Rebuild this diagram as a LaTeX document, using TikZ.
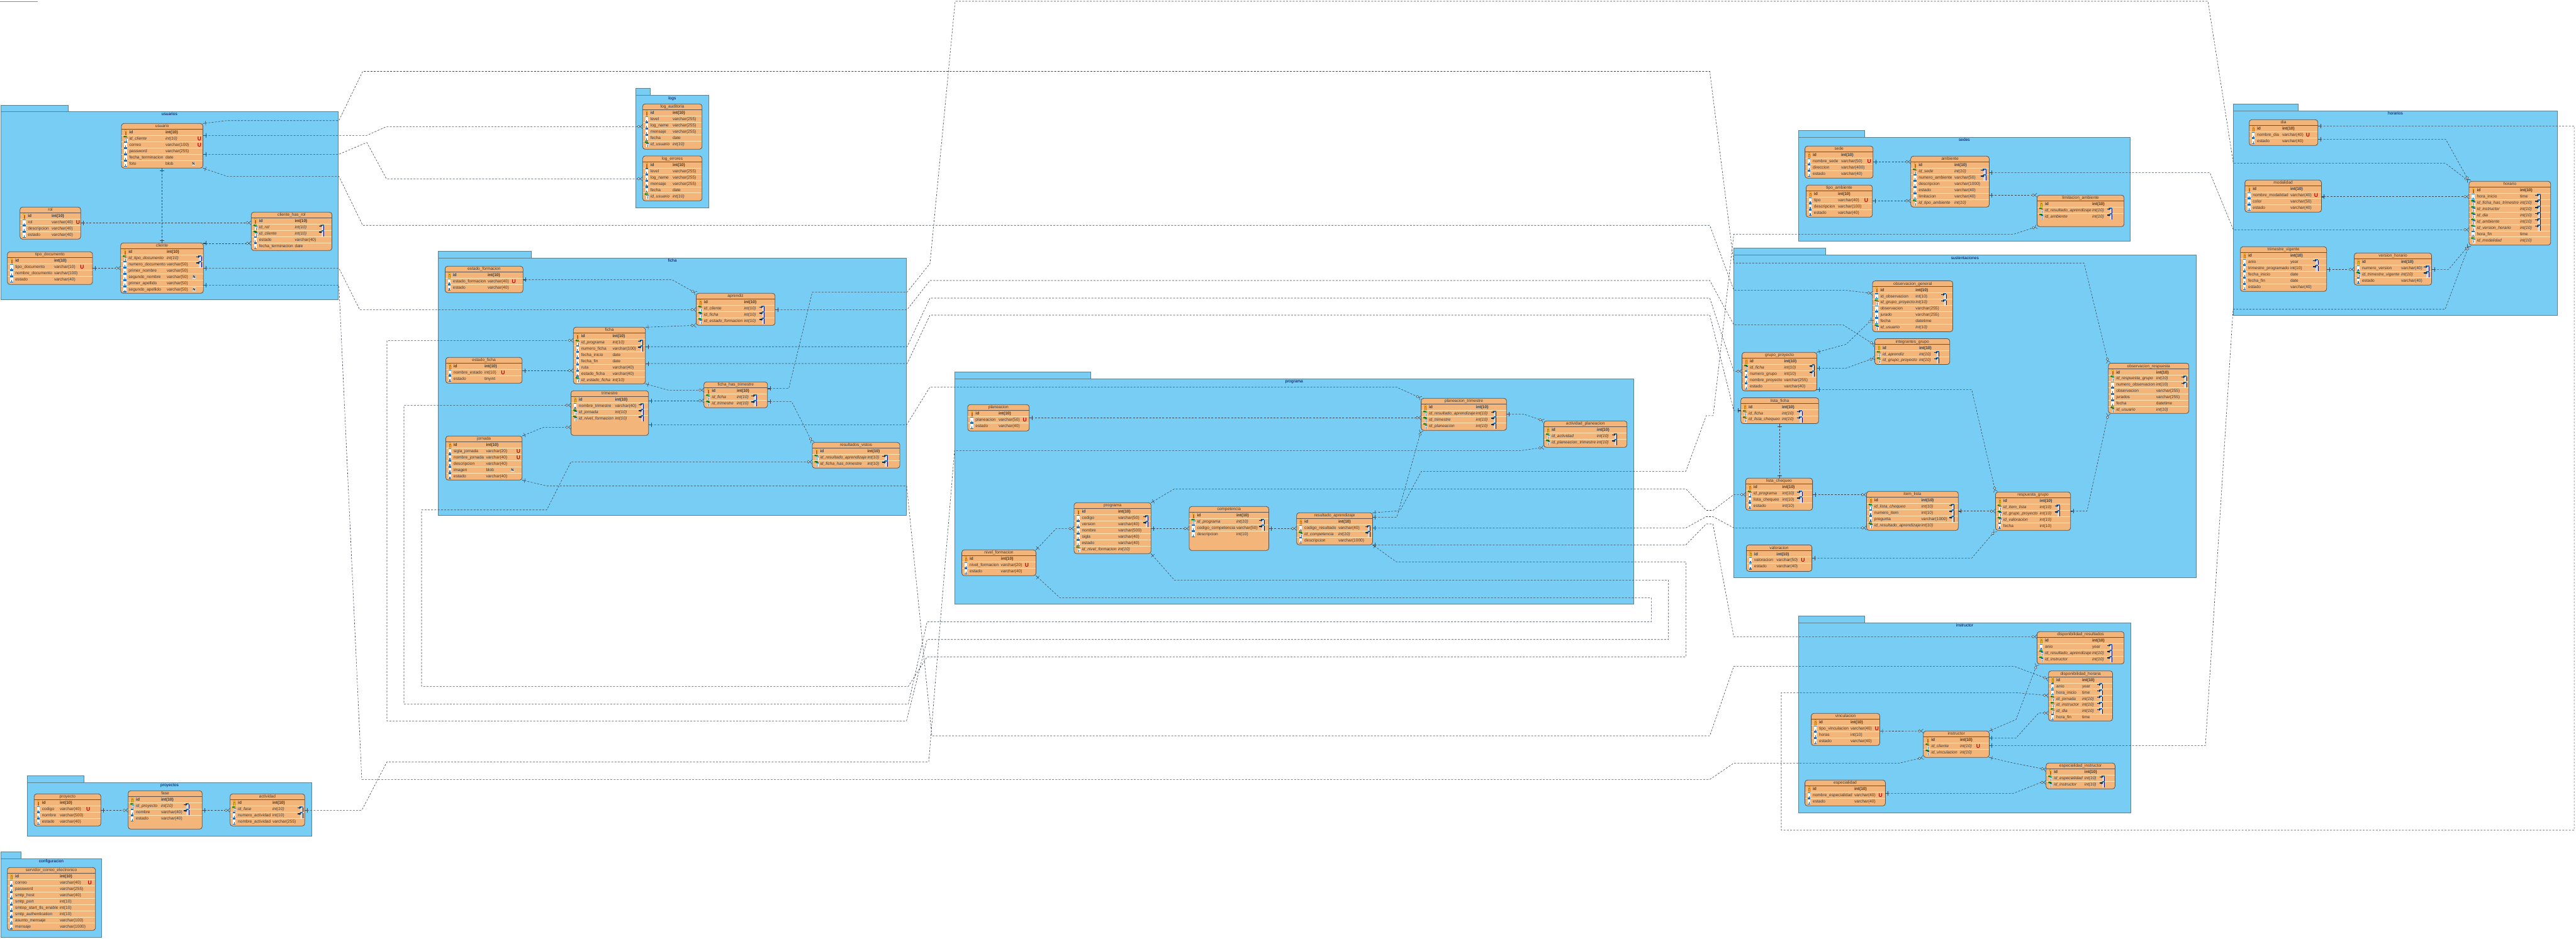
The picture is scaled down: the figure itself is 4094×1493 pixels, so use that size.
\documentclass[tikz,border=0pt]{standalone}
\usepackage{fontspec}
\setmainfont{Liberation Sans}
\usetikzlibrary{arrows.meta}
\definecolor{pkgfill}{HTML}{78CDF5}
\definecolor{pkgline}{HTML}{5B7F93}
\definecolor{tblfill}{HTML}{F4B57A}
\definecolor{tblline}{HTML}{5C5048}
\definecolor{rowline}{HTML}{FFE6B4}
\definecolor{iconblue}{HTML}{1B6FC2}
\definecolor{relline}{HTML}{3C4650}
\newcommand\tfont{\fontsize{6.6}{7.5}\selectfont}
\tikzset{
  x=1pt,y=-1pt,
  pkgbox/.style={draw=pkgline,fill=pkgfill,line width=.8pt},
  tblbox/.style={draw=tblline,fill=tblfill,line width=.8pt,rounded corners=4pt,inner sep=0pt,outer sep=0pt},
  txt/.style={inner sep=0pt,outer sep=0pt,font=\tfont,text=black!78},
  ttl/.style={txt,text=black!70!blue},
  onetip/.tip={Bar[width=7pt,sep=0pt,line width=.5pt] Rectangle[length=4pt,width=.5pt,sep=0pt]},
  manytip/.tip={Circle[open,length=4.5pt,width=4.5pt,fill=white,sep=0pt,line width=.6pt] Straight Barb[reversed,length=3.5pt,width=6.5pt,sep=0pt,line width=.5pt]},
  rel/.style={draw=relline,line width=.6pt,dash pattern=on 3pt off 2.2pt},
}
\newcommand\iconkey[2]{%
  \fill[yellow!85!orange,draw=orange!80!black,line width=.2pt] (#1-.7,#2-2) rectangle (#1+.7,#2+4.5);
  \fill[yellow!85!orange,draw=orange!80!black,line width=.2pt] (#1,#2-3) circle (1.6);}
\newcommand\iconcol[2]{%
  \fill[white] (#1-2.2,#2-5) rectangle (#1+2.2,#2+5);
  \fill[iconblue] (#1-2.2,#2-5) rectangle (#1+2.2,#2-3.2);
  \fill[iconblue] (#1-2.2,#2+3.4) rectangle (#1+2.2,#2+5);
  \fill[iconblue] (#1-.6,#2+1) rectangle (#1+.6,#2+3.4);}
\newcommand\iconfk[2]{%
  \fill[white] (#1-1,#2-2) rectangle (#1+2.6,#2+5);
  \fill[iconblue] (#1-1,#2-2) rectangle (#1+2.6,#2-.6);
  \fill[iconblue] (#1+.3,#2+.5) rectangle (#1+1.3,#2+4.5);
  \fill[green!50!black] (#1-4,#2-3.2) -- (#1-1.8,#2-5) -- (#1-1.8,#2-4.2) -- (#1+1.5,#2-4.2) -- (#1+1.5,#2-2.6) -- (#1-1.8,#2-2.6) -- (#1-1.8,#2-1.6) -- cycle;}
\newcommand\markR[2]{%
  \fill[white!85!black] (#1-2,#2-5) rectangle (#1+2.2,#2+5);
  \fill[iconblue] (#1-2,#2-5) rectangle (#1+2.2,#2-3);
  \fill[black!60!blue] (#1+1.5,#2-3) rectangle (#1+2.2,#2+5);
  \fill[black!65!iconblue] (#1-6,#2-3) rectangle (#1-2.5,#2-1.8);
  \fill[black!65!iconblue] (#1-3,#2-4.5) -- (#1-.6,#2-2.4) -- (#1-3,#2-.3) -- cycle;}
% package: id, x1, x2, tab top, body top, bottom, tab right
\newcommand\pkg[7]{%
  \node[pkgbox,inner sep=0pt,outer sep=0pt,minimum width={(#7-#2)*1pt},minimum height={(#5-#4)*1pt},anchor=north west] (#1-tab) at (#2,#4) {};
  \node[pkgbox,inner sep=0pt,outer sep=0pt,minimum width={(#3-#2)*1pt},minimum height={(#6-#5)*1pt},anchor=north west] (#1-pkg) at (#2,#5) {};
  \node[ttl,anchor=base] (#1-title) at ({(#2+#3)/2},#5+6.5) {#1};}
% table: id, x1, x2, y1, y2, type x, mark x, rows
\newcommand\tbl[8]{%
  \node[tblbox,minimum width={(#3-#2)*1pt},minimum height={(#5-#4)*1pt}] (#1) at ({(#2+#3)/2},{(#4+#5)/2}) {};
  \node[txt,anchor=base] (#1-t) at ({(#2+#3)/2},#4+6.6) {#1};
  \draw[tblline,line width=.8pt] (#2,#4+9.3) -- (#3,#4+9.3);
  \foreach \Ka/\Na/\Ty/\Ma [count=\ri from 0] in {#8}{%
    \pgfmathsetmacro\ry{#4+14.3+9.9*\ri}%
    \ifnum\ri>0 \draw[rowline,line width=.8pt] (#2+.4,\ry-4.95) -- (#3-.4,\ry-4.95);\fi
    \if p\Ka
      \iconkey{#2+6.5}{\ry}
      \node[txt,anchor=base west,font=\tfont\bfseries] (#1-n\ri) at (#2+12.5,\ry+2.3) {\Na};
      \node[txt,anchor=base west,font=\tfont\bfseries] (#1-y\ri) at (#6,\ry+2.3) {\Ty};
    \else\if f\Ka
      \iconfk{#2+7}{\ry}
      \node[txt,anchor=base west,font=\tfont\itshape] (#1-n\ri) at (#2+12.5,\ry+2.3) {\Na};
      \node[txt,anchor=base west,font=\tfont\itshape] (#1-y\ri) at (#6,\ry+2.3) {\Ty};
    \else
      \iconcol{#2+6.5}{\ry}
      \node[txt,anchor=base west] (#1-n\ri) at (#2+12.5,\ry+2.3) {\Na};
      \node[txt,anchor=base west] (#1-y\ri) at (#6,\ry+2.3) {\Ty};
    \fi\fi
    \if U\Ma
      \node[inner sep=0pt,anchor=base,text=red!75!black,font=\fontsize{8.5}{9}\selectfont\bfseries] (#1-u\ri) at (#7,\ry+3) {U};
    \else\if R\Ma
      \markR{#7}{\ry}
    \else\if N\Ma
      \node[inner sep=.5pt,fill=white,anchor=center,text=black,font=\fontsize{6}{6}\selectfont\bfseries] (#1-m\ri) at (#7-9.5,\ry) {N};
    \fi\fi\fi
  }}
\catcode`\_=12
\begin{document}
\begin{tikzpicture}
\useasboundingbox (0,0) rectangle (4094,1493);
\draw[black!45,line width=.5pt] (0,2) -- (60,2);
% ---------- packages
\pkg{usuarios}{1.4}{537.5}{167.3}{177.3}{476.3}{108.6}
\pkg{logs}{1010.3}{1126.3}{140.3}{151.7}{330.3}{1033.7}
\pkg{ficha}{696.4}{1440.7}{399.3}{410.3}{819.3}{844.7}
\pkg{programa}{1517}{2596.4}{591.3}{602.3}{960}{1733.6}
\pkg{sedes}{2858.2}{3385.7}{207.3}{218.3}{383.3}{2963.6}
\pkg{sustentaciones}{2755.5}{3490}{394.5}{405.5}{918.8}{2901.4}
\pkg{instructor}{2858.2}{3386.8}{979.3}{990.3}{1292}{2963.6}
\pkg{horarios}{3549.4}{4064.5}{165.3}{176}{501.3}{3652.7}
\pkg{proyectos}{43.3}{495.7}{1233.3}{1244.3}{1329.7}{133.7}
\pkg{configuracion}{1.3}{161.7}{1354.3}{1365.3}{1490.3}{33.7}
% ---------- tables
\tbl{usuario}{193}{322.5}{196.3}{267.3}{263}{317}{p/id/int(10)/-,f/id_cliente/int(10)/U,c/correo/varchar(100)/U,c/password/varchar(255)/-,c/fecha_terminacion/date/-,c/foto/blob/N}
\tbl{rol}{31.8}{128.2}{329.3}{380.3}{82.1}{124}{p/id/int(10)/-,c/rol/varchar(40)/U,c/descripcion/varchar(40)/-,c/estado/varchar(40)/-}
\tbl{tipo_documento}{11.8}{147}{400.3}{452.3}{86}{130.4}{p/id/int(10)/-,c/tipo_documento/varchar(10)/U,c/nombre_documento/varchar(100)/-,c/estado/varchar(40)/-}
\tbl{cliente}{191.8}{323.2}{386.3}{466.3}{265}{318}{p/id/int(10)/-,f/id_tipo_documento/int(10)/R,c/numero_documento/varchar(50)/R,c/primer_nombre/varchar(50)/-,c/segundo_nombre/varchar(50)/N,c/primer_apellido/varchar(50)/-,c/segundo_apellido/varchar(50)/N}
\tbl{cliente_has_rol}{399.3}{527.5}{337.3}{398.3}{468.6}{512.5}{p/id/int(10)/-,f/id_rol/int(10)/R,f/id_cliente/int(10)/R,c/estado/varchar(40)/-,c/fecha_terminacion/date/-}
\tbl{log_auditoria}{1021.3}{1115.7}{165.3}{237.3}{1069}{1110}{p/id/int(10)/-,c/level/varchar(255)/-,c/log_name/varchar(255)/-,c/mensaje/varchar(255)/-,c/fecha/date/-,f/id_usuario/int(10)/-}
\tbl{log_errores}{1021.3}{1115.7}{248}{319.3}{1069}{1110}{p/id/int(10)/-,c/level/varchar(255)/-,c/log_name/varchar(255)/-,c/mensaje/varchar(255)/-,c/fecha/date/-,f/id_usuario/int(10)/-}
\tbl{estado_formacion}{707.4}{831.2}{423.3}{465.3}{775}{816.8}{p/id/int(10)/-,c/estado_formacion/varchar(40)/U,c/estado/varchar(40)/-}
\tbl{aprendiz}{1106.4}{1231.7}{466.3}{517.3}{1182.5}{1212.8}{p/id/int(10)/-,f/id_cliente/int(10)/R,f/id_ficha/int(10)/R,f/id_estado_formacion/int(10)/R}
\tbl{ficha}{911.3}{1025.8}{520.3}{610.3}{973.5}{1019.8}{p/id/int(10)/-,f/id_programa/int(10)/R,c/numero_ficha/varchar(100)/R,c/fecha_inicio/date/-,c/fecha_fin/date/-,c/ruta/varchar(40)/-,c/estado_ficha/varchar(40)/-,f/id_estado_ficha/int(10)/-}
\tbl{estado_ficha}{708.4}{829.8}{568.3}{609.3}{770}{799.4}{p/id/int(10)/-,c/nombre_estado/int(10)/U,c/estado/tinyint/-}
\tbl{trimestre}{907.4}{1030.7}{621.3}{692.3}{977.5}{1020.8}{p/id/int(10)/-,c/nombre_trimestre/varchar(40)/R,f/id_jornada/int(10)/R,f/id_nivel_formacion/int(10)/R}
\tbl{ficha_has_trimestre}{1118.8}{1219.8}{607.3}{648.3}{1171}{1200.4}{p/id/int(10)/-,f/id_ficha/int(10)/R,f/id_trimestre/int(10)/R}
\tbl{jornada}{708.4}{829.8}{693.3}{763.3}{772.5}{824}{p/id/int(10)/-,c/sigla_jornada/varchar(20)/U,c/nombre_jornada/varchar(40)/U,c/descripcion/varchar(40)/-,c/imagen/blob/N,c/estado/varchar(40)/-}
\tbl{resultados_vistos}{1291}{1430}{703.3}{744.3}{1378.5}{1408.4}{p/id/int(10)/-,f/id_resultado_aprendizaje/int(10)/R,f/id_ficha_has_trimestre/int(10)/R}
\tbl{planeacion}{1537.9}{1635.7}{643.3}{685.3}{1587}{1628.6}{p/id/int(10)/-,c/planeacion/varchar(50)/U,c/estado/varchar(40)/-}
\tbl{planeacion_trimestre}{2258.6}{2394.3}{633.3}{684.3}{2345.7}{2375.7}{p/id/int(10)/-,f/id_resultado_aprendizaje/int(10)/R,f/id_trimestre/int(10)/R,f/id_planeacion/int(10)/R}
\tbl{actividad_planeacion}{2453.6}{2585.7}{669.3}{711.3}{2537.9}{2567.9}{p/id/int(10)/-,f/id_actividad/int(10)/R,f/id_planeacion_trimestre/int(10)/R}
\tbl{programa}{1707}{1829.3}{799.3}{880.3}{1777}{1822.9}{p/id/int(10)/-,c/codigo/varchar(50)/R,c/version/varchar(40)/R,c/nombre/varchar(500)/-,c/sigla/varchar(40)/-,c/estado/varchar(40)/-,f/id_nivel_formacion/int(10)/-}
\tbl{competencia}{1890}{2016.4}{805.3}{875.3}{1965}{2007}{p/id/int(10)/-,f/id_programa/int(10)/R,c/codigo_competencia/varchar(50)/R,c/descripcion/int(10)/-}
\tbl{resultado_aprendizaje}{2060.7}{2181.4}{815.3}{866.3}{2127}{2175.7}{p/id/int(10)/-,c/codigo_resultado/varchar(40)/R,f/id_competencia/int(10)/R,c/descripcion/varchar(1000)/-}
\tbl{nivel_formacion}{1528.6}{1646.4}{874.3}{915.3}{1590.7}{1632}{p/id/int(10)/-,c/nivel_formacion/varchar(20)/U,c/estado/varchar(40)/-}
\tbl{observacion_general}{2976}{3103.5}{446.5}{527.4}{3044.4}{3091}{p/id/int(10)/-,c/id_observacion/int(10)/R,f/id_grupo_proyecto/int(10)/R,c/observacion/varchar(255)/-,c/jurado/varchar(255)/-,c/fecha/datetime/-,f/id_usuario/int(10)/-}
\tbl{integrantes_grupo}{2979.5}{3098.7}{538.5}{579.5}{3050}{3079.8}{p/id/int(10)/-,f/id_aprendiz/int(10)/R,f/id_grupo_proyecto/int(10)/R}
\tbl{grupo_proyecto}{2768.6}{2887.4}{560.2}{621.5}{2835.5}{2881.5}{p/id/int(10)/-,f/id_ficha/int(10)/R,c/numero_grupo/int(10)/R,c/nombre_proyecto/varchar(255)/-,c/estado/varchar(40)/-}
\tbl{lista_ficha}{2766.7}{2890.3}{632.5}{673.5}{2832}{2862}{p/id/int(10)/-,f/id_ficha/int(10)/R,f/id_lista_chequeo/int(10)/R}
\tbl{lista_chequeo}{2774.4}{2880.6}{760.3}{811.3}{2832.6}{2862}{p/id/int(10)/-,f/id_programa/int(10)/R,c/lista_chequeo/int(10)/R,c/estado/int(10)/-}
\tbl{item_lista}{2966.4}{3112.3}{781.3}{843.3}{3053.6}{3103.5}{p/id/int(10)/-,f/id_lista_chequeo/int(10)/R,c/numero_item/int(10)/R,c/pregunta/varchar(1000)/R,f/id_resultado_aprendizaje/int(10)/-}
\tbl{respuesta_grupo}{3171.4}{3290.7}{782.3}{843.3}{3241.7}{3271.7}{p/id/int(10)/-,f/id_item_lista/int(10)/R,f/id_grupo_proyecto/int(10)/R,f/id_valoracion/int(10)/-,c/fecha/int(10)/-}
\tbl{observacion_respuesta}{3350.8}{3478.7}{577.4}{657.3}{3426.9}{3473}{p/id/int(10)/-,f/id_respuesta_grupo/int(10)/R,c/numero_observacion/int(10)/R,c/observacion/varchar(255)/-,c/jurados/varchar(255)/-,c/fecha/datetime/-,f/id_usuario/int(10)/-}
\tbl{valoracion}{2775.4}{2879.6}{866.4}{908.4}{2823.4}{2865.5}{p/id/int(10)/-,c/valoracion/varchar(50)/U,c/estado/varchar(40)/-}
\tbl{sede}{2868.6}{2976.8}{232.3}{283.3}{2926}{2970.7}{p/id/int(10)/-,c/nombre_sede/varchar(50)/U,c/direccion/varchar(400)/-,c/estado/varchar(40)/-}
\tbl{tipo_ambiente}{2870.4}{2975.7}{294.3}{345.3}{2921}{2966}{p/id/int(10)/-,c/tipo/varchar(40)/U,c/descripcion/varchar(100)/-,c/estado/varchar(40)/-}
\tbl{ambiente}{3036.8}{3161.4}{248.3}{329.3}{3106}{3154.3}{p/id/int(10)/-,f/id_sede/int(10)/R,c/numero_ambiente/varchar(50)/R,c/descripcion/varchar(1000)/-,c/estado/varchar(40)/-,c/limitacion/varchar(40)/-,f/id_tipo_ambiente/int(10)/-}
\tbl{limitacion_ambiente}{3237.5}{3375.7}{310.3}{360.3}{3325}{3354.6}{p/id/int(10)/-,f/id_resultado_aprendizaje/int(10)/R,f/id_ambiente/int(10)/R}
\tbl{dia}{3574.6}{3683.6}{190.3}{231.3}{3627}{3668}{p/id/int(10)/-,c/nombre_dia/varchar(40)/U,c/estado/varchar(40)/-}
\tbl{modalidad}{3567.8}{3689.4}{286.3}{337.3}{3640}{3681}{p/id/int(10)/-,c/nombre_modalidad/varchar(40)/U,c/color/varchar(50)/-,c/estado/varchar(40)/-}
\tbl{trimestre_vigente}{3560.6}{3697.6}{392.3}{463.3}{3640}{3682}{p/id/int(10)/-,c/anio/year/R,c/trimestre_programado/int(10)/R,c/fecha_inicio/date/-,c/fecha_fin/date/-,c/estado/varchar(40)/-}
\tbl{version_horario}{3741.5}{3864.5}{402.3}{453.3}{3816}{3858.4}{p/id/int(10)/-,c/numero_version/varchar(40)/R,f/id_trimestre_vigente/int(10)/R,c/estado/varchar(40)/-}
\tbl{horario}{3924}{4053.7}{288.3}{389.7}{4005}{4035.4}{p/id/int(10)/-,c/hora_inicio/time/R,f/id_ficha_has_trimestre/int(10)/R,f/id_instructor/int(10)/R,f/id_dia/int(10)/R,f/id_ambiente/int(10)/R,f/id_version_horario/int(10)/R,c/hora_fin/time/-,f/id_modalidad/int(10)/-}
\tbl{disponibilidad_resultados}{3237.5}{3375.7}{1004.3}{1055.7}{3325}{3354.6}{p/id/int(10)/-,c/anio/year/R,f/id_resultado_aprendizaje/int(10)/R,f/id_instructor/int(10)/R}
\tbl{disponibilidad_horaria}{3255.7}{3357.5}{1066.7}{1146.3}{3309}{3339}{p/id/int(10)/-,c/anio/year/R,c/hora_inicio/time/R,f/id_jornada/int(10)/R,f/id_instructor/int(10)/R,f/id_dia/int(10)/R,c/hora_fin/time/-}
\tbl{vinculacion}{2878.6}{2987.5}{1134.3}{1185.3}{2941}{2982.9}{p/id/int(10)/-,c/tipo_vinculacion/varchar(40)/U,c/horas/int(10)/-,c/estado/varchar(40)/-}
\tbl{instructor}{3056.8}{3161.4}{1162.3}{1204.3}{3115}{3144}{p/id/int(10)/-,f/id_cliente/int(10)/U,f/id_vinculacion/int(10)/-}
\tbl{especialidad_instructor}{3251.8}{3361.4}{1213.3}{1254.3}{3312.9}{3342.9}{p/id/int(10)/-,f/id_especialidad/int(10)/R,f/id_instructor/int(10)/R}
\tbl{especialidad}{2868.6}{2996.4}{1240.3}{1281.3}{2947}{2988.6}{p/id/int(10)/-,c/nombre_especialidad/varchar(40)/U,c/estado/varchar(40)/-}
\tbl{proyecto}{54.3}{160.3}{1262.3}{1313.3}{95}{140.3}{p/id/int(10)/-,c/codigo/varchar(40)/U,c/nombre/varchar(500)/-,c/estado/varchar(40)/-}
\tbl{fase}{203.7}{321.3}{1257.3}{1318.3}{256}{298}{p/id/int(10)/-,f/id_proyecto/int(10)/R,c/nombre/varchar(40)/R,c/estado/varchar(40)/-}
\tbl{actividad}{365.7}{484.3}{1262.3}{1313.3}{433}{479}{p/id/int(10)/-,f/id_fase/int(10)/R,c/numero_actividad/int(10)/R,c/nombre_actividad/varchar(255)/-}
\tbl{servidor_correo_electronico}{11.7}{151.7}{1379.3}{1479.3}{95}{142.7}{p/id/int(10)/-,c/correo/varchar(40)/U,c/password/varchar(255)/-,c/smtp_host/varchar(40)/-,c/smtp_port/int(10)/-,c/smtop_start_tls_enable/int(10)/-,c/smtp_authentication/int(10)/-,c/asunto_mensaje/varchar(100)/-,c/mensaje/varchar(1000)/-}
% ---------- connectors, usuarios
\draw[rel,onetip-onetip] (usuario.south -| 257.5,0) -- (cliente.north -| 257.5,0);
\draw[rel,onetip-manytip] (rol.east |- 0,354.3) -- (cliente_has_rol.west |- 0,354.3);
\draw[rel,onetip-manytip] (cliente.east |- 0,386.8) -- (cliente_has_rol.west |- 0,386.8);
\draw[rel,onetip-manytip] (tipo_documento.east |- 0,426.3) -- (cliente.west |- 0,426.3);
\draw[rel,onetip-manytip] (usuario.north east) -- (360.7,191.7) -- (538.6,191.7) -- (576.4,113.5) -- (2717.3,113.5) -- (2755.5,418.2) -- (3312,418.2) -- (observacion_respuesta.north west);
\draw[rel,onetip-manytip] (usuario.east |- 0,215.3) -- (583,215.3) -- (614.2,201.3) -- (log_auditoria.west |- 0,201.3);
\draw[rel,onetip-manytip] (usuario.east |- 0,245.3) -- (538.6,245.3) -- (583,226.6) -- (614.2,284.3) -- (log_errores.west |- 0,284.3);
\draw[rel,onetip-manytip] (usuario.south east) -- (360.7,280.3) -- (538.6,280.3) -- (576.4,358.2) -- (2717.3,358.2) -- (2755.5,461.3) -- (2931.5,461.3) -- (observacion_general.west |- 0,466.6);
\draw[rel,onetip-manytip] (cliente.east |- 0,426.3) -- (538.6,426.3) -- (571.7,492.3) -- (aprendiz.west |- 0,492.3);
\draw[rel,onetip-manytip] (cliente.east |- 0,453.3) -- (538.6,453.3) -- (575,1239.3) -- (2717.3,1239.3) -- (2755.5,1213.3) -- (3018.6,1213.3) -- (instructor.south west);
% ficha
\draw[rel,onetip-manytip] (estado_formacion.east |- 0,444.7) -- (1068,444.7) -- (aprendiz.north west);
\draw[rel,onetip-manytip] (ficha.north east) -- (aprendiz.south west);
\draw[rel,onetip-manytip] (estado_ficha.east |- 0,589.3) -- (ficha.west |- 0,589.3);
\draw[rel,onetip-manytip] (ficha.south east) -- (1062,620.3) -- (ficha_has_trimestre.west |- 0,620.3);
\draw[rel,onetip-manytip] (trimestre.east |- 0,637.3) -- (ficha_has_trimestre.west |- 0,637.3);
\draw[rel,onetip-manytip] (ficha_has_trimestre.east |- 0,638.3) -- (1258,638.3) -- (resultados_vistos.north west);
\draw[rel,onetip-manytip] (jornada.north east) -- (864,679.3) -- (trimestre.west |- 0,679.3);
\draw[rel,onetip-manytip] (ficha_has_trimestre.east |- 0,617.6) -- (1253.6,617.6) -- (1291,464.3) -- (1441.7,464.3) -- (1478,419) -- (1518,2) -- (3509,2) -- (3549.4,259.3) -- (3886,259.3) -- (horario.north west);
\draw[rel,onetip-manytip] (aprendiz.east |- 0,492.3) -- (1441.7,492.3) -- (1478,446) -- (2717.3,446) -- (2755.5,516.4) -- (2929,516.4) -- (integrantes_grupo.west |- 0,548.5);
\draw[rel,onetip-manytip] (ficha.east |- 0,551.2) -- (1441.7,551.2) -- (1478,474) -- (2717.3,474) -- (2755.5,590.3) -- (grupo_proyecto.west |- 0,590.3);
\draw[rel,onetip-onetip] (ficha.east |- 0,578) -- (1441.7,578) -- (1478,501) -- (2717.3,501) -- (2755.5,652.8) -- (lista_ficha.west |- 0,652.8);
\draw[rel,onetip-manytip] (trimestre.east |- 0,675.3) -- (1441,675.3) -- (1478,615.3) -- (2219,615.3) -- (planeacion_trimestre.north west);
\draw[rel,onetip-manytip] (jornada.south east) -- (869,772.7) -- (1441,772.7) -- (1481,1170) -- (2717.3,1170) -- (2755.5,1059.3) -- (3200.7,1059.3) -- (disponibilidad_horaria.west |- 0,1080);
% programa
\draw[rel,onetip-manytip] (planeacion.east |- 0,664.3) -- (planeacion_trimestre.west |- 0,664.3);
\draw[rel,onetip-manytip] (planeacion_trimestre.east |- 0,658.3) -- (2421,658.3) -- (actividad_planeacion.north west);
\draw[rel,onetip-manytip] (resultado_aprendizaje.east |- 0,822.3) -- (2220,822.3) -- (planeacion_trimestre.south west);
\draw[rel,onetip-manytip] (nivel_formacion.north east) -- (1678.6,840.3) -- (programa.west |- 0,840.3);
\draw[rel,onetip-manytip] (programa.east |- 0,840.3) -- (competencia.west |- 0,840.3);
\draw[rel,onetip-manytip] (competencia.east |- 0,840.3) -- (resultado_aprendizaje.west |- 0,840.3);
\draw[rel,onetip-manytip] (resultado_aprendizaje.north east) -- (2225,812) -- (2259,749.3) -- (2679.3,749.3) -- (2711.7,660.8) -- (2722.7,660.8) -- (2755.5,372.3) -- (3200.7,372.3) -- (limitacion_ambiente.south west);
\draw[rel,onetip-manytip] (programa.north east) -- (1866.4,777.3) -- (2679.3,777.3) -- (2711.7,811.5) -- (2722.3,811.5) -- (2755.5,786.3) -- (lista_chequeo.west |- 0,786.3);
\draw[rel,onetip-manytip] (resultado_aprendizaje.east |- 0,839.3) -- (2679.3,839.3) -- (2711.7,821.5) -- (2722.3,821.5) -- (2755.5,839.3) -- (item_lista.west |- 0,839.3);
\draw[rel,onetip-manytip] (resultado_aprendizaje.south east) -- (2679.3,866.3) -- (2711.7,833) -- (2722.3,833) -- (2755.5,1012.3) -- (disponibilidad_resultados.west |- 0,1012.3);
\draw[rel,onetip-manytip] (resultado_aprendizaje.south east) -- (2219,893.3) -- (2679.3,893.3) -- (2679.3,1044.3) -- (1473.4,1044.3) -- (1443.6,1091.3) -- (670,1091.3) -- (670,810.7) -- (869,810.7) -- (907.4,734.3) -- (resultados_vistos.west |- 0,734.3);
\draw[rel,onetip-manytip] (programa.south east) -- (1866.4,922.3) -- (2651.7,922.3) -- (2651.7,1016.7) -- (1473.4,1016.7) -- (1440.6,1146.3) -- (615,1146.3) -- (615,541.3) -- (ficha.west |- 0,541.3);
\draw[rel,onetip-manytip] (nivel_formacion.south east) -- (1684.3,950.3) -- (2624.3,950.3) -- (2624.3,988.7) -- (1473.4,988.7) -- (1443.6,1119.3) -- (642,1119.3) -- (642,644.3) -- (trimestre.west |- 0,644.3);
\draw[rel,onetip-manytip] (actividad.east |- 0,1288.3) -- (575,1288.3) -- (615,1211.3) -- (1476,1211.3) -- (1517,716.3) -- (2418,716.3) -- (actividad_planeacion.south west);
% sustentaciones
\draw[rel,onetip-manytip] (grupo_proyecto.north east) -- (2934,547.4) -- (observacion_general.west |- 0,507);
\draw[rel,onetip-manytip] (grupo_proyecto.east |- 0,585.3) -- (2934,585.3) -- (integrantes_grupo.west |- 0,569);
\draw[rel,onetip-manytip] (grupo_proyecto.east |- 0,619.4) -- (3133.6,619.4) -- (respuesta_grupo.north west);
\draw[rel,onetip-onetip] (lista_ficha.south -| 2828.5,0) -- (lista_chequeo.north -| 2828.5,0);
\draw[rel,onetip-manytip] (lista_chequeo.east |- 0,786.5) -- (item_lista.west |- 0,786.5);
\draw[rel,onetip-manytip] (item_lista.east |- 0,812.7) -- (respuesta_grupo.west |- 0,812.7);
\draw[rel,onetip-manytip] (respuesta_grupo.east |- 0,812.7) -- (3316.8,812.7) -- (observacion_respuesta.south west);
\draw[rel,onetip-manytip] (valoracion.east |- 0,887.4) -- (3133.6,887.4) -- (respuesta_grupo.south west);
% sedes
\draw[rel,onetip-manytip] (sede.east |- 0,257.3) -- (ambiente.west |- 0,257.3);
\draw[rel,onetip-manytip] (tipo_ambiente.east |- 0,319.3) -- (ambiente.west |- 0,319.3);
\draw[rel,onetip-manytip] (ambiente.east |- 0,310.3) -- (limitacion_ambiente.north west);
\draw[rel,onetip-manytip] (ambiente.east |- 0,274.3) -- (3512,274.3) -- (3549.4,365.3) -- (horario.west |- 0,365.3);
% horarios
\draw[rel,onetip-manytip] (dia.east |- 0,221.3) -- (3886.8,221.3) -- (horario.north west);
\draw[rel,onetip-manytip] (modalidad.east |- 0,312.7) -- (horario.west |- 0,312.7);
\draw[rel,onetip-manytip] (trimestre_vigente.east |- 0,428.3) -- (version_horario.west |- 0,428.3);
\draw[rel,onetip-manytip] (version_horario.east |- 0,428.3) -- (3891.5,428.3) -- (horario.south west);
\draw[rel,onetip-manytip] (dia.east |- 0,200.3) -- (4091,200.3) -- (4091,1320) -- (2831,1320) -- (2831,1101.3) -- (3204,1101.3) -- (disponibilidad_horaria.west |- 0,1106);
% instructor
\draw[rel,onetip-manytip] (vinculacion.east |- 0,1162.6) -- (instructor.north west);
\draw[rel,onetip-manytip] (instructor.north east) -- (3204,1144) -- (disponibilidad_resultados.south west);
\draw[rel,onetip-manytip] (instructor.east |- 0,1173.3) -- (3204,1173.3) -- (3240,1133.7) -- (disponibilidad_horaria.west |- 0,1133.7);
\draw[rel,onetip-manytip] (instructor.east |- 0,1185.3) -- (3505,1185.3) -- (3549,491.7) -- (3886,491.7) -- (horario.south west);
\draw[rel,onetip-manytip] (instructor.south east) -- (3200,1213.3) -- (especialidad_instructor.west |- 0,1223.5);
\draw[rel,onetip-manytip] (especialidad.east |- 0,1261.3) -- (3200,1261.3) -- (3243.6,1244) -- (especialidad_instructor.west |- 0,1244);
% proyectos
\draw[rel,onetip-manytip] (proyecto.east |- 0,1288.3) -- (fase.west |- 0,1288.3);
\draw[rel,onetip-manytip] (fase.east |- 0,1288.3) -- (actividad.west |- 0,1288.3);
\end{tikzpicture}
\end{document}
